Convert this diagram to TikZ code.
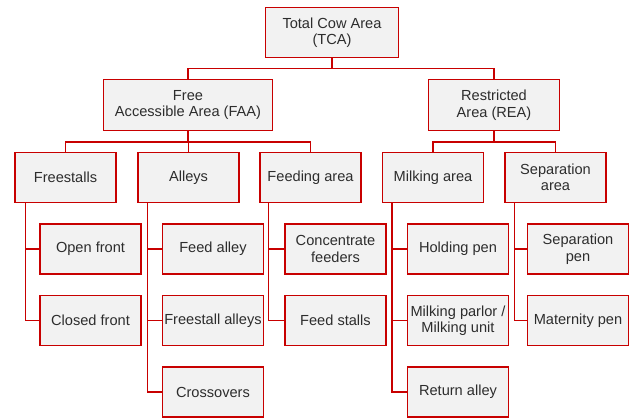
\documentclass[tikz,border=0pt]{standalone}
\usepackage{fontspec}
\setmainfont{Liberation Sans}
\usepackage{xcolor}
\usepackage{tikz}
\usetikzlibrary{backgrounds}

\definecolor{areared}{RGB}{200,0,0}
\definecolor{areafill}{RGB}{242,242,242}
\definecolor{areatext}{RGB}{45,45,45}

\begin{document}
\begin{tikzpicture}[x=1pt,y=-1pt,
  area/.style={rectangle,draw=areared,fill=areafill,line width=1.4pt,text=areatext,
    align=center,inner sep=1pt,minimum width=101pt,minimum height=50pt,
    font=\fontsize{14.6}{16.5}\selectfont},
  link/.style={draw=areared,line width=1.5pt}]
\useasboundingbox (0,0) rectangle (629,419);

% top levels
\node [area,minimum width=133pt] (tca) at (332,32.5) {Total Cow Area\\(TCA)};
\node [area,minimum width=169pt,minimum height=51pt] (faa) at (188,105) {Free\\Accessible Area (FAA)};
\node [area,minimum width=131pt,minimum height=51pt] (rea) at (494,105) {Restricted\\Area (REA)};

\node [area] (fs) at (65.5,177.5) {Freestalls};
\node [area] (al) at (188.5,177.5) {Alleys};
\node [area] (fa) at (310.5,177.5) {Feeding area};
\node [area] (ma) at (433,177.5) {Milking area};
\node [area] (sa) at (555.5,177.5) {Separation\\area};

% sub areas
\node [area] (of) at (90.5,249) {Open front};
\node [area] (cf) at (90.5,320.5) {Closed front};
\node [area] (fal) at (213,249) {Feed alley};
\node [area] (sal) at (213,320.5) {Freestall alleys};
\node [area] (cr) at (213,392) {Crossovers};
\node [area] (cn) at (335.5,249) {Concentrate\\feeders};
\node [area] (fst) at (335.5,320.5) {Feed stalls};
\node [area] (hp) at (458,249) {Holding pen};
\node [area] (mp) at (458,320.5) {Milking parlor /\\Milking unit};
\node [area] (ra) at (458,392) {Return alley};
\node [area] (sp) at (578,249) {Separation\\pen};
\node [area] (mt) at (578,320.5) {Maternity pen};

% links
\begin{scope}[on background layer]
\draw [link] (tca.south) -- ++(0,10.5) -| (faa.north);
\draw [link] (tca.south) -- ++(0,10.5) -| (rea.north);
\draw [link] (faa.south) -- ++(0,11) -| (fs.north);
\draw [link] (faa.south) -- ++(0,11) -| (al.north);
\draw [link] (faa.south) -- ++(0,11) -| (fa.north);
\draw [link] (rea.south) -- ++(0,11) -| (ma.north);
\draw [link] (rea.south) -- ++(0,11) -| (sa.north);

\draw [link] ([xshift=11pt]fs.south west) |- (of.west);
\draw [link] ([xshift=11pt]fs.south west) |- (cf.west);
\draw [link] ([xshift=10pt]al.south west) |- (fal.west);
\draw [link] ([xshift=10pt]al.south west) |- (sal.west);
\draw [link] ([xshift=10pt]al.south west) |- (cr.west);
\draw [link] ([xshift=9pt]fa.south west) |- (cn.west);
\draw [link] ([xshift=9pt]fa.south west) |- (fst.west);
\draw [link] ([xshift=10pt]ma.south west) |- (hp.west);
\draw [link] ([xshift=10pt]ma.south west) |- (mp.west);
\draw [link] ([xshift=10pt]ma.south west) |- (ra.west);
\draw [link] ([xshift=10pt]sa.south west) |- (sp.west);
\draw [link] ([xshift=10pt]sa.south west) |- (mt.west);
\end{scope}
\end{tikzpicture}
\end{document}
